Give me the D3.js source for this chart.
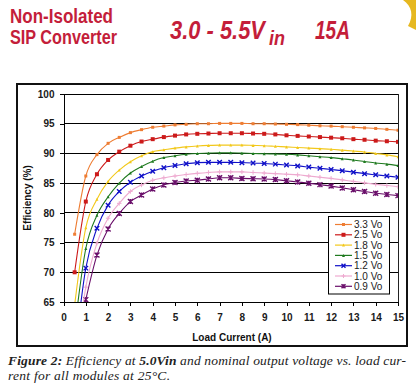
<!DOCTYPE html>
<html><head><meta charset="utf-8">
<script src="https://cdn.jsdelivr.net/npm/d3@7"></script>
<style>
html,body{margin:0;padding:0;background:#fff;}
svg{display:block;}
</style></head>
<body>
<svg id="c" width="416" height="387"></svg>
<script>
const loadCurrent = [0.5,1,1.5,2,2.5,3,3.5,4,4.5,5,5.5,6,6.5,7,7.5,8,8.5,9,9.5,10,10.5,11,11.5,12,12.5,13,13.5,14,14.5,15];
const seriesNames = ["3.3 Vo","2.5 Vo","1.8 Vo","1.5 Vo","1.2 Vo","1.0 Vo","0.9 Vo"];
const eff33 = [76.4,86.2,89.8,91.7,92.7,93.5,94.0,94.4,94.6,94.8,94.9,95.0,95.0,95.05,95.05,95.05,95.0,95.0,94.95,94.9,94.85,94.75,94.65,94.6,94.5,94.4,94.3,94.2,94.05,93.9];
const eff25 = [70.0,81.9,86.5,88.9,90.3,91.3,92.0,92.4,92.75,93.0,93.2,93.3,93.35,93.4,93.4,93.4,93.35,93.3,93.2,93.05,92.95,92.85,92.75,92.65,92.55,92.4,92.3,92.15,92.05,91.95];
const eff18 = [64.5,77.5,82.3,85.3,87.2,88.6,89.6,90.3,90.6,90.9,91.1,91.25,91.35,91.4,91.4,91.4,91.35,91.3,91.2,91.1,91.0,90.9,90.8,90.7,90.55,90.4,90.25,90.0,89.75,89.45];
const eff15 = [60.5,74.0,79.6,82.7,85.0,86.7,87.8,88.7,89.3,89.6,89.85,90.0,90.05,90.1,90.1,90.05,90.0,89.95,89.9,89.85,89.75,89.6,89.45,89.3,89.1,88.9,88.65,88.4,88.2,87.95];
const eff12 = [56.0,70.7,77.4,81.3,83.6,85.15,86.2,87.0,87.6,87.95,88.25,88.45,88.5,88.5,88.5,88.45,88.4,88.3,88.2,88.05,87.9,87.7,87.5,87.3,87.1,86.85,86.6,86.4,86.2,86.0];
const eff10 = [54.0,67.5,74.9,79.1,81.6,83.6,84.7,85.5,85.9,86.2,86.45,86.65,86.8,86.9,86.9,86.9,86.8,86.7,86.6,86.5,86.4,86.2,86.0,85.8,85.55,85.3,85.05,84.8,84.6,84.4];
const eff09 = [null,65.4,72.9,77.3,79.9,81.9,83.0,84.0,84.7,85.1,85.35,85.5,85.7,85.9,85.9,85.8,85.75,85.7,85.6,85.4,85.2,85.0,84.75,84.5,84.2,83.9,83.6,83.3,83.1,82.9];
const xTicks = [0,1,2,3,4,5,6,7,8,9,10,11,12,13,14,15];
const yTicks = [65,70,75,80,85,90,95,100];

const allSeries = [eff33,eff25,eff18,eff15,eff12,eff10,eff09];
const colors = ["#ee7d33","#cc1a1a","#f2c81a","#1f7a1f","#1010c8","#eeaad0","#6a0f6a"];
const shapes = ["square","square","triangle","triangle","x","plus","star"];
const msize = [3,4,3,3,4.5,4.5,5];

const svg = d3.select("#c");
const red = "#c41e3a";
const narrow = "'Liberation Sans Narrow','Arial Narrow',sans-serif";

// header
svg.append("text").attr("transform","translate(10,22.5) scale(1,1.15)").attr("fill",red)
  .attr("font-family",narrow).attr("font-weight","bold").attr("font-size",17)
  .attr("textLength",103).attr("lengthAdjust","spacingAndGlyphs").text("Non-Isolated");
svg.append("text").attr("transform","translate(10,44) scale(1,1.15)").attr("fill",red)
  .attr("font-family",narrow).attr("font-weight","bold").attr("font-size",17)
  .attr("textLength",107).attr("lengthAdjust","spacingAndGlyphs").text("SIP Converter");
svg.append("text").attr("transform","translate(170,38.5) scale(1,1.3)").attr("fill",red)
  .attr("font-family",narrow).attr("font-weight","bold").attr("font-style","italic").attr("font-size",19.5)
  .attr("textLength",95).attr("lengthAdjust","spacingAndGlyphs").text("3.0 - 5.5V");
svg.append("text").attr("transform","translate(269,44.5) scale(1,1.2)").attr("fill",red)
  .attr("font-family",narrow).attr("font-weight","bold").attr("font-style","italic").attr("font-size",17)
  .attr("textLength",16).attr("lengthAdjust","spacingAndGlyphs").text("in");
svg.append("text").attr("transform","translate(315,38.5) scale(1,1.3)").attr("fill",red)
  .attr("font-family",narrow).attr("font-weight","bold").attr("font-style","italic").attr("font-size",19.5)
  .attr("textLength",35).attr("lengthAdjust","spacingAndGlyphs").text("15A");
// decorative swirl top-right
svg.append("path").attr("d","M403,0 C412,6 414,16 408,26 L416,30 L416,0 Z").attr("fill","#e6b820");

// outer frame
svg.append("rect").attr("x",17).attr("y",84).attr("width",390).attr("height",262)
  .attr("fill","#fff").attr("stroke","#111").attr("stroke-width",2);

const L=63.5,R=398,T=94,B=302;
const x = d3.scaleLinear().domain([0,15]).range([L,R]);
const y = d3.scaleLinear().domain([65,100]).range([B,T]);

svg.append("defs").append("clipPath").attr("id","clip").append("rect")
  .attr("x",L).attr("y",T).attr("width",R-L).attr("height",B-T);

// gridlines
svg.append("g").selectAll("line").data(yTicks.filter(v=>v>65)).join("line")
  .attr("x1",L).attr("x2",R).attr("y1",d=>y(d)).attr("y2",d=>y(d))
  .attr("stroke","#000").attr("stroke-width",1).attr("shape-rendering","crispEdges");
svg.append("line").attr("x1",R).attr("x2",R).attr("y1",T).attr("y2",B)
  .attr("stroke","#222").attr("stroke-width",1).attr("shape-rendering","crispEdges");

// axes
const xAxis = svg.append("g").attr("transform",`translate(0,${B})`)
  .call(d3.axisBottom(x).tickValues(xTicks).tickSize(4).tickPadding(8).tickFormat(d3.format("d")));
const yAxis = svg.append("g").attr("transform",`translate(${L},0)`)
  .call(d3.axisLeft(y).tickValues(yTicks).tickSize(4).tickPadding(5).tickFormat(d3.format("d")));
[xAxis,yAxis].forEach(a=>{
  a.select(".domain").attr("stroke","#000").attr("shape-rendering","crispEdges");
  a.selectAll(".tick line").attr("stroke","#000").attr("shape-rendering","crispEdges");
  a.selectAll(".tick text").attr("fill","#1a1a1a").attr("font-family","'Liberation Sans',Arial,sans-serif")
    .attr("font-weight","bold").attr("font-size",10);
});

svg.append("text").attr("x",232).attr("y",341).attr("text-anchor","middle")
  .attr("font-family","'Liberation Sans',Arial,sans-serif").attr("font-weight","bold").attr("font-size",10)
  .attr("fill","#111").text("Load Current (A)");
svg.append("text").attr("transform",`translate(30.5,198) rotate(-90)`).attr("text-anchor","middle")
  .attr("font-family","'Liberation Sans',Arial,sans-serif").attr("font-weight","bold").attr("font-size",10)
  .attr("fill","#111").text("Efficiency (%)");

function marker(g, shape, s, color){
  const h=s/2;
  if(shape==="square") g.append("rect").attr("x",-h).attr("y",-h).attr("width",s).attr("height",s).attr("fill",color);
  else if(shape==="triangle") g.append("path").attr("d",`M0,${-h} L${h},${h} L${-h},${h} Z`).attr("fill",color);
  else if(shape==="x") g.append("path").attr("d",`M${-h},${-h}L${h},${h}M${-h},${h}L${h},${-h}`).attr("stroke",color).attr("stroke-width",1.4);
  else if(shape==="plus") g.append("path").attr("d",`M${-h},0L${h},0M0,${-h}L0,${h}`).attr("stroke",color).attr("stroke-width",1);
  else if(shape==="star") g.append("path").attr("d",`M${-h},${-h}L${h},${h}M${-h},${h}L${h},${-h}M0,${-h}L0,${h}`).attr("stroke",color).attr("stroke-width",1.4);
}

const plot = svg.append("g").attr("clip-path","url(#clip)");
const line = d3.line().defined(d=>d[1]!=null).x(d=>x(d[0])).y(d=>y(d[1])).curve(d3.curveMonotoneX);
for(let i=allSeries.length-1;i>=0;i--){
  const pts = loadCurrent.map((c,j)=>[c,allSeries[i][j]]);
  plot.append("path").datum(pts).attr("d",line).attr("fill","none").attr("stroke",colors[i]).attr("stroke-width",1.1);
  pts.filter(p=>p[1]!=null).forEach(p=>{
    const g = plot.append("g").attr("transform",`translate(${x(p[0])},${y(p[1])})`);
    marker(g,shapes[i],msize[i],colors[i]);
  });
}

// legend
const lg = svg.append("g");
lg.append("rect").attr("x",328.5).attr("y",216.5).attr("width",61).attr("height",77.5)
  .attr("fill","#fff").attr("stroke","#000").attr("stroke-width",1);
seriesNames.forEach((n,i)=>{
  const yy = 224.5 + i*10.3;
  lg.append("line").attr("x1",335).attr("x2",352).attr("y1",yy).attr("y2",yy).attr("stroke",colors[i]).attr("stroke-width",1.2);
  const g = lg.append("g").attr("transform",`translate(343.5,${yy})`);
  marker(g,shapes[i],Math.min(msize[i],4),colors[i]);
  lg.append("text").attr("x",354).attr("y",yy+3.6).attr("font-family","'Liberation Sans',Arial,sans-serif")
    .attr("font-size",10).attr("fill","#222").text(n);
});

// caption
const cap = svg.append("text").attr("x",8).attr("y",365).attr("font-family","'Liberation Serif','Times New Roman',serif")
  .attr("font-style","italic").attr("font-size",13.5).attr("fill","#222")
  .attr("textLength",398).attr("lengthAdjust","spacing");
cap.append("tspan").attr("font-weight","bold").text("Figure 2:");
cap.append("tspan").text(" Efficiency at ");
cap.append("tspan").attr("font-weight","bold").text("5.0Vin");
cap.append("tspan").text(" and nominal output voltage vs. load cur-");
svg.append("text").attr("x",8).attr("y",379.5).attr("font-family","'Liberation Serif','Times New Roman',serif")
  .attr("font-style","italic").attr("font-size",13.5).attr("fill","#222")
  .attr("textLength",162).attr("lengthAdjust","spacing").text("rent for all modules at 25°C.");
</script>
</body></html>
